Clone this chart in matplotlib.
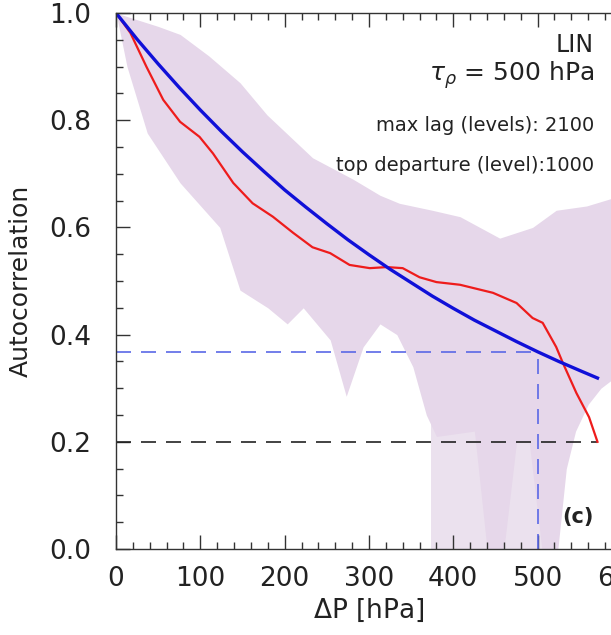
import numpy as np
import matplotlib
matplotlib.use("Agg")
import matplotlib.pyplot as plt
from matplotlib.ticker import MultipleLocator, FormatStrFormatter

# exponential model, tau = 500 hPa
blue_dp = [0, 25, 50, 75, 100, 125, 150, 175, 200, 225, 250, 275, 300, 325, 350,
           375, 400, 425, 450, 475, 500, 525, 550, 571]
blue_r = [1.0, 0.951, 0.905, 0.861, 0.819, 0.779, 0.741, 0.705, 0.670, 0.638, 0.607,
          0.577, 0.549, 0.522, 0.497, 0.472, 0.449, 0.427, 0.407, 0.387, 0.368, 0.350,
          0.333, 0.319]

# mean autocorrelation
red_dp = [0, 17, 36, 56, 76, 99, 115, 139, 162, 186, 210, 233, 254, 277, 301, 321,
          340, 360, 380, 408, 447, 475, 494, 506, 522, 530, 546, 561, 571]
red_r = [1.0, 0.963, 0.90, 0.838, 0.797, 0.769, 0.738, 0.683, 0.645, 0.62, 0.59, 0.563,
         0.552, 0.53, 0.524, 0.526, 0.524, 0.507, 0.498, 0.493, 0.478, 0.459, 0.431,
         0.422, 0.377, 0.347, 0.291, 0.246, 0.2]

# spread of individual profiles (dense part)
band_hi_dp = [0, 20, 50, 76, 110, 147, 179, 233, 281, 313, 336, 375, 408, 455, 494, 522, 558, 600]
band_hi = [1.0, 0.99, 0.975, 0.96, 0.92, 0.87, 0.81, 0.73, 0.69, 0.66, 0.645, 0.632, 0.62,
           0.58, 0.60, 0.632, 0.64, 0.66]
band_lo_dp = [0, 13, 37, 76, 123, 147, 180, 203, 222, 254, 273, 293, 313, 333, 352, 368,
              380, 425, 440, 460, 475, 490, 505, 524, 534, 545, 560, 575, 600]
band_lo = [1.0, 0.90, 0.776, 0.683, 0.60, 0.483, 0.45, 0.42, 0.45, 0.39, 0.285, 0.377,
           0.42, 0.40, 0.34, 0.25, 0.21, 0.22, 0.0, 0.0, 0.2, 0.2, 0.0, 0.0, 0.15, 0.22,
           0.27, 0.30, 0.33]
# sparse part near the bottom
sparse_dp = [374, 380, 500, 506]
sparse_hi = [0.25, 0.25, 0.25, 0.25]

tau = 500
e_fold = 0.368
r_thresh = 0.2

plt.rcParams['font.family'] = 'DejaVu Sans'
fig = plt.figure(figsize=(6.11, 6.35), dpi=100)
ax = fig.add_axes([0.1899, 0.1354, 0.828, 0.8441])

grid = np.linspace(0, 600, 1201)
hi = np.interp(grid, band_hi_dp, band_hi)
lo = np.interp(grid, band_lo_dp, band_lo)
ax.fill_between(sparse_dp, 0, sparse_hi, color='#ebe1ee', lw=0)
ax.fill_between(grid, lo, hi, color='#e6d7ea', lw=0)

ax.plot([0, tau], [e_fold, e_fold], color='#5a68e6', lw=1.2, dashes=(9, 6))
ax.plot([tau, tau], [0, e_fold], color='#5a68e6', lw=1.2, dashes=(9, 6))
ax.plot([0, red_dp[-1]], [r_thresh, r_thresh], color='#222222', lw=1.2, dashes=(9, 6))

ax.plot(red_dp, red_r, color='#ee1c1c', lw=1.6)
ax.plot(blue_dp, blue_r, color='#1010d8', lw=2.4)

ax.set_xlim(0, 600)
ax.set_ylim(0, 1)
ax.xaxis.set_major_locator(MultipleLocator(100))
ax.xaxis.set_minor_locator(MultipleLocator(20))
ax.yaxis.set_major_locator(MultipleLocator(0.2))
ax.yaxis.set_minor_locator(MultipleLocator(0.05))
ax.yaxis.set_major_formatter(FormatStrFormatter('%.1f'))
ax.tick_params(which='both', direction='in', top=True, right=False, colors='#333333',
               labelcolor='#222222', labelsize=19, width=1)
ax.tick_params(which='major', length=10)
ax.tick_params(which='minor', length=5)
ax.tick_params(axis='x', which='major', pad=12)
ax.tick_params(axis='y', which='major', pad=18)
for s in ax.spines.values():
    s.set_color('#333333')
    s.set_linewidth(1)

ax.set_xlabel(r'$\Delta$P [hPa]', fontsize=19, color='#222222', labelpad=4)
ax.set_ylabel('Autocorrelation', fontsize=18, color='#222222', labelpad=12)

ax.text(567, 0.94, 'LIN', ha='right', va='center', fontsize=17, color='#222222')
ax.text(567, 0.885, r'$\tau_{\rho}$ = 500 hPa', ha='right', va='center', fontsize=18, color='#222222')
ax.text(567, 0.791, 'max lag (levels): 2100', ha='right', va='center', fontsize=14, color='#222222')
ax.text(567, 0.716, 'top departure (level):1000', ha='right', va='center', fontsize=14, color='#222222')
ax.text(567, 0.06, '(c)', ha='right', va='center', fontsize=15, fontweight='bold', color='#222222')

fig.savefig('out.png', dpi=100)
